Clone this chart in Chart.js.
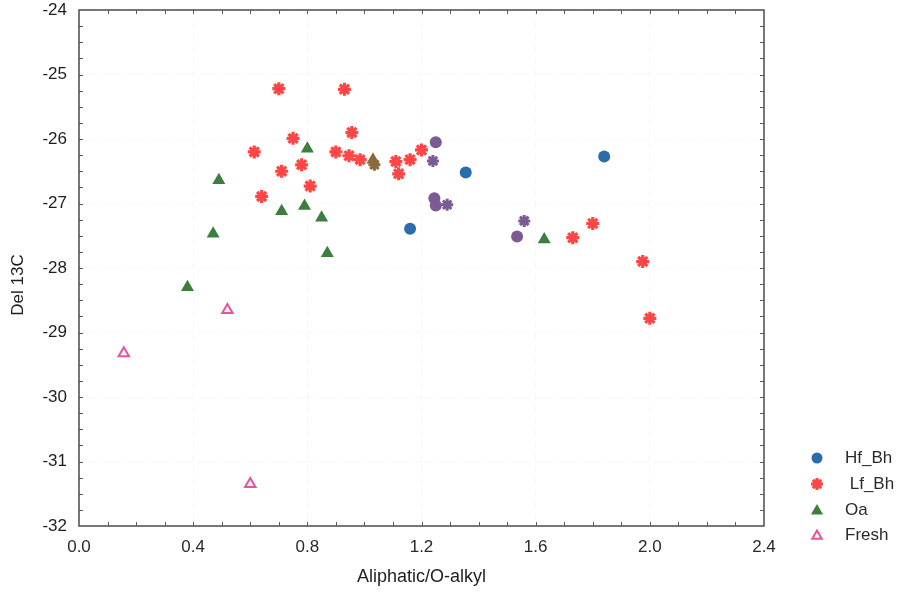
<!DOCTYPE html>
<html>
<head>
<meta charset="utf-8">
<script src="https://cdn.jsdelivr.net/npm/chart.js@4.4.1/dist/chart.umd.min.js"></script>
<style>
  html, body { margin: 0; padding: 0; background: #ffffff; }
  #wrap { width: 901px; height: 595px; }
</style>
</head>
<body>
<div id="wrap"><canvas id="c" width="901" height="595"></canvas></div>
<script>
// Axis ticks
const xTicks = [0.0, 0.4, 0.8, 1.2, 1.6, 2.0, 2.4];
const yTicks = [-32, -31, -30, -29, -28, -27, -26, -25, -24];

// Hf_Bh
const hfBhX = [1.16, 1.355, 1.84];
const hfBhY = [-27.39, -26.52, -26.27];

// Lf_Bh
const lfBhX = [0.70, 0.93, 0.956, 0.75, 0.614, 0.90, 0.946, 0.985, 0.71, 0.78, 0.81, 0.64, 1.11, 1.12, 1.16, 1.20, 1.73, 1.80, 1.975, 2.00];
const lfBhY = [-25.22, -25.23, -25.90, -25.99, -26.20, -26.20, -26.26, -26.32, -26.50, -26.40, -26.73, -26.89, -26.35, -26.54, -26.32, -26.17, -27.53, -27.31, -27.90, -28.78];

// Oa
const oaX = [0.80, 0.49, 0.71, 0.79, 0.85, 0.47, 0.87, 0.38, 1.63];
const oaY = [-26.15, -26.64, -27.12, -27.04, -27.22, -27.47, -27.77, -28.30, -27.56];

// Fresh
const freshX = [0.52, 0.157, 0.60];
const freshY = [-28.65, -29.32, -31.35];

// Further groups plotted without a legend entry
const bhDotX = [1.25, 1.245, 1.25, 1.535];
const bhDotY = [-26.05, -26.92, -27.03, -27.51];
const bhStarX = [1.24, 1.29, 1.56];
const bhStarY = [-26.34, -27.02, -27.27];
const mixTriX = [1.03];
const mixTriY = [-26.32];
const mixStarX = [1.035];
const mixStarY = [-26.40];

// Axis titles
const xTitle = 'Aliphatic/O-alkyl';
const yTitle = 'Del 13C';

const FONT = "'Liberation Sans', Arial, Helvetica, sans-serif";
const pts = (xs, ys) => xs.map((x, i) => ({ x: x, y: ys[i] }));

const datasets = [
  { label: 'Hf_Bh', data: pts(hfBhX, hfBhY), pointStyle: 'circle', pointRadius: 6,
    backgroundColor: '#2b6cab', borderColor: '#2b6cab', borderWidth: 0, legend: true },
  { label: ' Lf_Bh', data: pts(lfBhX, lfBhY), pointStyle: 'star', pointRadius: 6.5,
    backgroundColor: '#ff4646', borderColor: '#ff4646', borderWidth: 3.2, legend: true },
  { label: 'Oa', data: pts(oaX, oaY), pointStyle: 'triangle', pointRadius: 7.5,
    backgroundColor: '#3d7d3f', borderColor: '#3d7d3f', borderWidth: 0, legend: true },
  { label: 'Fresh', data: pts(freshX, freshY), pointStyle: 'triangle', pointRadius: 6,
    backgroundColor: '#fdf2f7', borderColor: '#e4569a', borderWidth: 2, legend: true },
  { label: 'Bh dots', data: pts(bhDotX, bhDotY), pointStyle: 'circle', pointRadius: 6,
    backgroundColor: '#7a5b92', borderColor: '#7a5b92', borderWidth: 0 },
  { label: 'Bh stars', data: pts(bhStarX, bhStarY), pointStyle: 'star', pointRadius: 6,
    backgroundColor: '#7a5b92', borderColor: '#7a5b92', borderWidth: 3 },
  { label: 'Mixed triangle', data: pts(mixTriX, mixTriY), pointStyle: 'triangle', pointRadius: 7.5,
    backgroundColor: '#8a6a3c', borderColor: '#8a6a3c', borderWidth: 0 },
  { label: 'Mixed star', data: pts(mixStarX, mixStarY), pointStyle: 'star', pointRadius: 6,
    backgroundColor: '#8a6a3c', borderColor: '#8a6a3c', borderWidth: 3 }
];

// Frame around the plot plus short inward minor ticks on all four sides
const frameTicks = {
  id: 'frameTicks',
  beforeDatasetsDraw(chart) {
    const { ctx, chartArea: a, scales: { x, y } } = chart;
    ctx.save();
    ctx.strokeStyle = '#5a5a5a';
    ctx.lineWidth = 1;
    ctx.beginPath();
    for (let k = 1; k < 24; k++) {
      const px = Math.round(x.getPixelForValue(k / 10)) + 0.5;
      ctx.moveTo(px, a.bottom); ctx.lineTo(px, a.bottom - 4);
      ctx.moveTo(px, a.top); ctx.lineTo(px, a.top + 4);
    }
    for (let k = 1; k < 32; k++) {
      const py = Math.round(y.getPixelForValue(-32 + k * 0.25)) + 0.5;
      ctx.moveTo(a.left, py); ctx.lineTo(a.left + 4, py);
      ctx.moveTo(a.right, py); ctx.lineTo(a.right - 4, py);
    }
    ctx.stroke();
    ctx.lineWidth = 1.6;
    ctx.strokeStyle = '#555555';
    ctx.strokeRect(a.left, a.top, a.right - a.left, a.bottom - a.top);
    ctx.restore();
  }
};

// Vertical axis title, set a little below the plot's middle
const yTitleDraw = {
  id: 'yTitleDraw',
  afterDraw(chart) {
    const { ctx } = chart;
    ctx.save();
    ctx.translate(18, 285);
    ctx.rotate(-Math.PI / 2);
    ctx.fillStyle = '#1e1e1e';
    ctx.font = '17px ' + FONT;
    ctx.textAlign = 'center';
    ctx.textBaseline = 'middle';
    ctx.fillText(yTitle, 0, 0);
    ctx.restore();
  }
};

// Legend block at the lower right, outside the plot
const sideLegend = {
  id: 'sideLegend',
  afterDraw(chart) {
    const { ctx } = chart;
    const rows = [458, 484, 510, 535];
    let r = 0;
    chart.data.datasets.forEach(ds => {
      if (!ds.legend) return;
      const cy = rows[r++];
      ctx.save();
      ctx.fillStyle = ds.backgroundColor;
      ctx.strokeStyle = ds.borderColor;
      ctx.lineWidth = ds.borderWidth;
      Chart.helpers.drawPoint(ctx, {
        pointStyle: ds.pointStyle, radius: ds.pointRadius - 0.5, rotation: 0, borderWidth: ds.borderWidth
      }, 817, cy + (ds.pointStyle === 'triangle' ? 1 : 0));
      ctx.fillStyle = '#2a2a2a';
      ctx.font = '17px ' + FONT;
      ctx.textBaseline = 'middle';
      ctx.textAlign = 'left';
      ctx.fillText(ds.label, 845, cy);
      ctx.restore();
    });
  }
};

new Chart(document.getElementById('c'), {
  type: 'scatter',
  data: { datasets: datasets },
  options: {
    responsive: false,
    animation: false,
    devicePixelRatio: 1,
    layout: { padding: { top: 10, right: 137, bottom: 0, left: 0 } },
    plugins: { legend: { display: false }, tooltip: { enabled: false } },
    scales: {
      x: {
        type: 'linear', min: 0, max: 2.4,
        afterBuildTicks: s => { s.ticks = xTicks.map(v => ({ value: v })); },
        afterFit: s => { s.height = 69; s.paddingLeft = 0; s.paddingRight = 0; },
        ticks: { callback: v => Number(v).toFixed(1), color: '#2a2a2a', padding: 11,
                 font: { family: FONT, size: 17 } },
        grid: { color: 'rgba(0,0,0,0.035)', drawTicks: false },
        border: { display: false, dash: [6, 6] },
        title: { display: true, text: xTitle, color: '#1e1e1e',
                 font: { family: FONT, size: 18 }, padding: { top: 0, bottom: 7 } }
      },
      y: {
        type: 'linear', min: -32, max: -24,
        afterBuildTicks: s => { s.ticks = yTicks.map(v => ({ value: v })); },
        afterFit: s => { s.width = 79; s.paddingTop = 0; s.paddingBottom = 0; },
        ticks: { color: '#1e1e1e', padding: 12, font: { family: FONT, size: 17 } },
        grid: { color: 'rgba(0,0,0,0.035)', drawTicks: false },
        border: { display: false, dash: [6, 6] }
      }
    }
  },
  plugins: [frameTicks, yTitleDraw, sideLegend]
});
</script>
</body>
</html>
